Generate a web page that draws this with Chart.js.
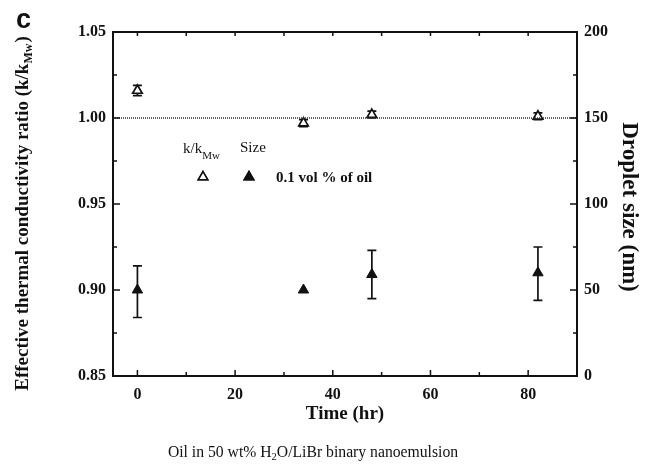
<!DOCTYPE html>
<html>
<head>
<meta charset="utf-8">
<script src="https://cdn.jsdelivr.net/npm/chart.js@4"></script>
<style>
  html, body { margin: 0; padding: 0; background: #fff; }
  #wrap { position: relative; width: 646px; height: 469px; }
</style>
</head>
<body>
<div id="wrap"><canvas id="c"></canvas></div>
<script>
// data
const times = [0, 34, 48, 82];
const ratio = [1.016, 0.997, 1.002, 1.001];
const ratioLo = [1.013, 0.995, 1.000, 0.999];
const ratioHi = [1.019, 0.999, 1.004, 1.003];
const size = [50, 50, 59, 60];
const sizeLo = [34, 50, 45, 44];
const sizeHi = [64, 50, 73, 75];
const refLine = [1.0, 1.0];

const xTicks = [0, 20, 40, 60, 80];
const xMinor = [10, 30, 50, 70];
const yTicks = [0.85, 0.90, 0.95, 1.00, 1.05];
const yMinor = [0.875, 0.925, 0.975, 1.025];
const y2Ticks = [0, 50, 100, 150, 200];
const y2Minor = [25, 75, 125, 175];

const SERIF = '"Liberation Serif", "Times New Roman", serif';

const decor = {
  id: 'decor',
  beforeDatasetsDraw(chart) {
    const { ctx, scales: { x, y, y2 } } = chart;
    ctx.save();
    ctx.strokeStyle = '#111';
    ctx.lineWidth = 1.7;
    const bar = (sc, t, lo, hi) => {
      if (hi - lo < 1e-9) return;
      const px = x.getPixelForValue(t);
      const a = sc.getPixelForValue(lo), b = sc.getPixelForValue(hi);
      ctx.beginPath();
      ctx.moveTo(px, a); ctx.lineTo(px, b);
      ctx.moveTo(px - 4.5, a); ctx.lineTo(px + 4.5, a);
      ctx.moveTo(px - 4.5, b); ctx.lineTo(px + 4.5, b);
      ctx.stroke();
    };
    times.forEach((t, i) => {
      bar(y, t, ratioLo[i], ratioHi[i]);
      bar(y2, t, sizeLo[i], sizeHi[i]);
    });
    ctx.restore();
  },
  afterDraw(chart) {
    const { ctx, chartArea: a, scales: { x, y, y2 } } = chart;
    ctx.save();
    ctx.strokeStyle = '#111';
    ctx.lineWidth = 2;
    ctx.strokeRect(a.left, a.top, a.right - a.left, a.bottom - a.top);

    // inward ticks
    ctx.lineWidth = 1.5;
    ctx.beginPath();
    xTicks.forEach(v => {
      const p = x.getPixelForValue(v);
      ctx.moveTo(p, a.bottom); ctx.lineTo(p, a.bottom - 6);
      ctx.moveTo(p, a.top); ctx.lineTo(p, a.top + 4);
    });
    xMinor.forEach(v => {
      const p = x.getPixelForValue(v);
      ctx.moveTo(p, a.bottom); ctx.lineTo(p, a.bottom - 4);
      ctx.moveTo(p, a.top); ctx.lineTo(p, a.top + 4);
    });
    yTicks.forEach(v => {
      const p = y.getPixelForValue(v);
      ctx.moveTo(a.left, p); ctx.lineTo(a.left + 7, p);
    });
    yMinor.forEach(v => {
      const p = y.getPixelForValue(v);
      ctx.moveTo(a.left, p); ctx.lineTo(a.left + 4, p);
    });
    y2Ticks.forEach(v => {
      const p = y2.getPixelForValue(v);
      ctx.moveTo(a.right, p); ctx.lineTo(a.right - 7, p);
    });
    y2Minor.forEach(v => {
      const p = y2.getPixelForValue(v);
      ctx.moveTo(a.right, p); ctx.lineTo(a.right - 4, p);
    });
    ctx.stroke();

    ctx.fillStyle = '#111';
    ctx.textBaseline = 'middle';

    // panel letter
    ctx.font = 'bold 27px "Liberation Sans", Arial, sans-serif';
    ctx.textAlign = 'left';
    ctx.fillText('c', 16, 21);

    // x title
    ctx.font = 'bold 19px ' + SERIF;
    ctx.textAlign = 'center';
    ctx.fillText('Time (hr)', (a.left + a.right) / 2, 414);

    // left title with subscript
    ctx.save();
    ctx.translate(23, (a.top + a.bottom) / 2 + 10);
    ctx.rotate(-Math.PI / 2);
    const main = 'Effective thermal conductivity ratio (k/k';
    ctx.font = 'bold 19px ' + SERIF;
    const w1 = ctx.measureText(main).width;
    ctx.font = 'bold 12px ' + SERIF;
    const w2 = ctx.measureText('Mw').width;
    ctx.font = 'bold 19px ' + SERIF;
    const w3 = ctx.measureText(')').width;
    let sx = -(w1 + w2 + w3) / 2;
    ctx.textAlign = 'left';
    ctx.fillText(main, sx, 0);
    ctx.font = 'bold 12px ' + SERIF;
    ctx.fillText('Mw', sx + w1, 6);
    ctx.font = 'bold 19px ' + SERIF;
    ctx.fillText(')', sx + w1 + w2 + 1, 0);
    ctx.restore();

    // right title
    ctx.save();
    ctx.translate(629, (a.top + a.bottom) / 2 + 3);
    ctx.rotate(Math.PI / 2);
    ctx.font = 'bold 23px ' + SERIF;
    ctx.textAlign = 'center';
    ctx.fillText('Droplet size (nm)', 0, 0);
    ctx.restore();

    // legend
    ctx.textAlign = 'left';
    ctx.font = '15px ' + SERIF;
    ctx.fillText('k/k', 183, 149);
    const kw = ctx.measureText('k/k').width;
    ctx.font = '11px ' + SERIF;
    ctx.fillText('Mw', 183 + kw, 156);
    ctx.font = '15px ' + SERIF;
    ctx.fillText('Size', 240, 148);
    ctx.font = 'bold 15px ' + SERIF;
    ctx.fillText('0.1 vol % of oil', 276, 178);
    ctx.lineWidth = 1.5;
    ctx.fillStyle = '#fff';
    Chart.helpers.drawPoint(ctx, { pointStyle: 'triangle', radius: 5.5, borderWidth: 1.5 }, 203, 177);
    ctx.fill(); ctx.stroke();
    ctx.fillStyle = '#111';
    Chart.helpers.drawPoint(ctx, { pointStyle: 'triangle', radius: 5.5, borderWidth: 1.5 }, 249, 177);
    ctx.fill(); ctx.stroke();

    // caption
    ctx.font = '15.7px ' + SERIF;
    const c1 = 'Oil in 50 wt% H', c2 = '2', c3 = 'O/LiBr binary nanoemulsion';
    const cw1 = ctx.measureText(c1).width, cw3 = ctx.measureText(c3).width;
    ctx.font = '10.5px ' + SERIF;
    const cw2 = ctx.measureText(c2).width;
    let cx = 313 - (cw1 + cw2 + cw3) / 2;
    ctx.font = '15.7px ' + SERIF;
    ctx.fillText(c1, cx, 453);
    ctx.font = '10.5px ' + SERIF;
    ctx.fillText(c2, cx + cw1, 457);
    ctx.font = '15.7px ' + SERIF;
    ctx.fillText(c3, cx + cw1 + cw2, 453);
    ctx.restore();
  }
};

const tickFont = { family: SERIF, size: 16, weight: 'bold' };

new Chart(document.getElementById('c'), {
  type: 'scatter',
  data: {
    datasets: [
      {
        type: 'line',
        data: [{ x: -5, y: refLine[0] }, { x: 90, y: refLine[1] }],
        yAxisID: 'y',
        borderColor: '#333',
        borderWidth: 1.5,
        borderDash: [1, 1],
        pointRadius: 0
      },
      {
        data: times.map((t, i) => ({ x: t, y: ratio[i] })),
        yAxisID: 'y',
        pointStyle: 'triangle',
        pointRadius: 5.5,
        backgroundColor: '#fff',
        borderColor: '#111',
        borderWidth: 1.7
      },
      {
        data: times.map((t, i) => ({ x: t, y: size[i] })),
        yAxisID: 'y2',
        pointStyle: 'triangle',
        pointRadius: 6,
        backgroundColor: '#111',
        borderColor: '#111',
        borderWidth: 1
      }
    ]
  },
  options: {
    responsive: true,
    maintainAspectRatio: false,
    animation: false,
    layout: { padding: { top: 32, left: 0, right: 0, bottom: 0 } },
    plugins: { legend: { display: false }, tooltip: { enabled: false } },
    scales: {
      x: {
        type: 'linear', position: 'bottom', min: -5, max: 90,
        grid: { display: false, drawTicks: false },
        border: { display: false },
        ticks: { font: tickFont, color: '#111', padding: 9, maxRotation: 0 },
        afterBuildTicks: s => { s.ticks = xTicks.map(v => ({ value: v })); },
        afterFit: s => { s.height = 93; }
      },
      y: {
        type: 'linear', position: 'left', min: 0.85, max: 1.05,
        grid: { display: false, drawTicks: false },
        border: { display: false },
        ticks: { font: tickFont, color: '#111', padding: 7, callback: v => v.toFixed(2) },
        afterBuildTicks: s => { s.ticks = yTicks.map(v => ({ value: v })); },
        afterFit: s => { s.width = 113; }
      },
      y2: {
        type: 'linear', position: 'right', min: 0, max: 200,
        grid: { display: false, drawTicks: false },
        border: { display: false },
        ticks: { font: tickFont, color: '#111', padding: 7 },
        afterBuildTicks: s => { s.ticks = y2Ticks.map(v => ({ value: v })); },
        afterFit: s => { s.width = 69; }
      }
    }
  },
  plugins: [decor]
});
</script>
</body>
</html>
